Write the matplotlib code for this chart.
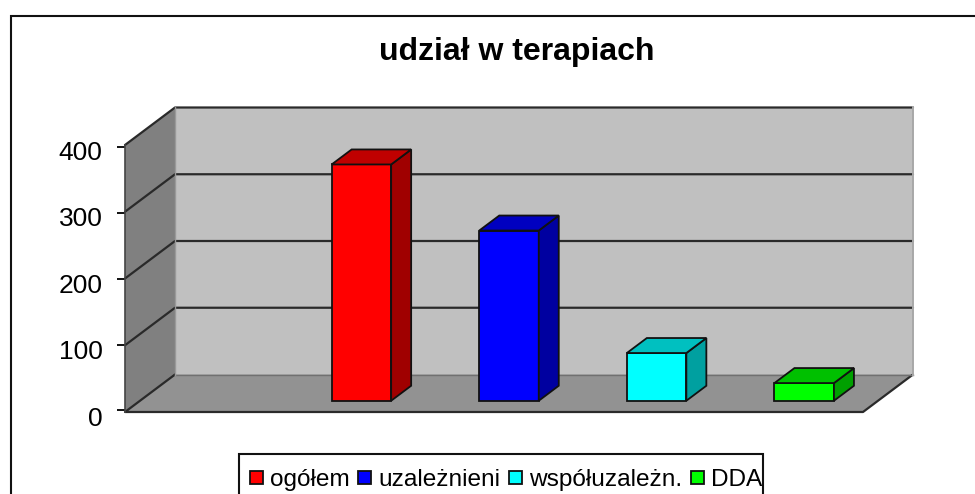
import matplotlib
matplotlib.use("Agg")
import matplotlib.pyplot as plt
from matplotlib.patches import Polygon, Patch, Rectangle
from matplotlib.transforms import ScaledTranslation

plt.rcParams['font.family'] = ['Liberation Sans', 'DejaVu Sans']

# ---- data
title = "udział w terapiach"
series_names = ["ogółem", "uzależnieni", "współuzależn.", "DDA"]
series_values = [354, 255, 71.5, 26.5]
value_ticks = [0, 100, 200, 300, 400]

# ---- style
front_colors = ["#FF0000", "#0000FF", "#00FFFF", "#00FF00"]
side_colors = ["#A00000", "#0000A0", "#00A0A0", "#00A000"]
top_colors = ["#C00000", "#0000C0", "#00C0C0", "#00C000"]
W, H = 975, 494
SLOT_PX = 147.6
UNIT_PX = 267 / 400
DX = 50 / SLOT_PX        # x-units of full chart depth
DY = 37.5 / UNIT_PX      # value-units of full chart depth
BAR_W = 59.5 / SLOT_PX
D0, D1 = 0.30, 0.70      # bar depth range
XMIN, XMAX = -1.5, 3.5
YMIN, YMAX = 0, 400
EDGE = "#111111"


def proj(x, v, d=0.0):
    return (x + d * DX, v + d * DY)


fig = plt.figure(figsize=(W / 100, H / 100), dpi=100, facecolor="white")
ax = fig.add_axes([125 / W, (H - 412) / H, 738 / W, 267 / H])
ax.set_xlim(XMIN, XMAX)
ax.set_ylim(YMIN, YMAX)
ax.patch.set_visible(False)
for s in ax.spines.values():
    s.set_visible(False)


def face(points, color, z, lw=1.3, ec=EDGE):
    ax.add_patch(Polygon(points, closed=True, facecolor=color, edgecolor=ec,
                         linewidth=lw, clip_on=False, zorder=z, joinstyle="miter"))


# back wall, side wall, floor
face([proj(XMIN, YMIN, 1), proj(XMAX, YMIN, 1), proj(XMAX, YMAX, 1), proj(XMIN, YMAX, 1)],
     "#C0C0C0", 1, lw=0)
face([proj(XMIN, YMIN, 0), proj(XMIN, YMIN, 1), proj(XMIN, YMAX, 1), proj(XMIN, YMAX, 0)],
     "#808080", 1, lw=0)
face([proj(XMIN, YMIN, 0), proj(XMAX, YMIN, 0), proj(XMAX, YMIN, 1), proj(XMIN, YMIN, 1)],
     "#929292", 1, lw=0)

# wall outlines and gridlines
line_kw = dict(color="#2A2A2A", lw=1.6, clip_on=False, zorder=2, solid_capstyle="round")
for v in value_ticks[1:]:
    pts = [proj(XMIN, v, 0), proj(XMIN, v, 1), proj(XMAX, v, 1)]
    ax.plot(*zip(*pts), **line_kw)
floor_pts = [proj(XMIN, YMIN, 1), proj(XMIN, YMIN, 0), proj(XMAX, YMIN, 0), proj(XMAX, YMIN, 1)]
ax.plot(*zip(*floor_pts), **line_kw)
ax.plot(*zip(proj(XMIN, YMIN, 0), proj(XMIN, YMAX, 0)), color="#444444", lw=1.2, clip_on=False, zorder=2)
ax.plot(*zip(proj(XMIN, YMIN, 1), proj(XMAX, YMIN, 1)), color="#707070", lw=1.0, clip_on=False, zorder=2)
ax.plot(*zip(proj(XMIN, YMIN, 1), proj(XMIN, YMAX, 1)), color="#999999", lw=1.0, clip_on=False, zorder=2)
ax.plot(*zip(proj(XMAX, YMIN, 1), proj(XMAX, YMAX, 1)), color="#A8A8A8", lw=1.4, clip_on=False, zorder=2)

# bars
for i, val in enumerate(series_values):
    x0, x1 = i - BAR_W / 2, i + BAR_W / 2
    z = 5 + i
    face([proj(x0, 0, D0), proj(x1, 0, D0), proj(x1, val, D0), proj(x0, val, D0)], front_colors[i], z)
    face([proj(x1, 0, D0), proj(x1, 0, D1), proj(x1, val, D1), proj(x1, val, D0)], side_colors[i], z)
    face([proj(x0, val, D0), proj(x1, val, D0), proj(x1, val, D1), proj(x0, val, D1)], top_colors[i], z)

# value axis
ax.set_xticks([])
ax.set_yticks(value_ticks)
ax.set_yticklabels([str(v) for v in value_ticks], fontsize=19, color="black")
ax.tick_params(axis="y", length=5.8, width=1.4, color="#111111", pad=10.3)
for v, tick in zip(value_ticks, ax.yaxis.get_major_ticks()):
    t = v / YMAX
    tick_px = 1.7 - 4.0 * t
    label_px = -4.0 - 1.5 * t
    tick.tick1line.set_transform(tick.tick1line.get_transform()
                                 + ScaledTranslation(0, tick_px / 100, fig.dpi_scale_trans))
    tick.label1.set_transform(tick.label1.get_transform()
                              + ScaledTranslation(0, label_px / 100, fig.dpi_scale_trans))

# title
fig.text(517 / W, 1 - 60 / H, title, ha="center", va="baseline",
         fontsize=23, fontweight="bold", color="black")

# outer chart frame (runs off the right and bottom edges)
fig.add_artist(Rectangle((11 / W, -0.1), 1.1, 1 - 16 / H + 0.1, transform=fig.transFigure,
                         fill=False, edgecolor="#111111", linewidth=1.5))
# legend box (runs off the bottom edge)
fig.add_artist(Rectangle((238.5 / W, -0.1), (762.5 - 238.5) / W, 1 - 454 / H + 0.1,
                         transform=fig.transFigure, fill=False,
                         edgecolor="#111111", linewidth=1.5, zorder=3))

handles = [Patch(facecolor=c, edgecolor="#111111", linewidth=1.3, label=n)
           for c, n in zip(front_colors, series_names)]
leg = fig.legend(handles=handles, loc="center left", bbox_to_anchor=(250 / W, 1 - 480 / H),
                 ncol=4, frameon=False, fontsize=17.6, borderpad=0, borderaxespad=0,
                 handlelength=0.53, handleheight=0.45, handletextpad=0.3, columnspacing=0.34)

fig.savefig("out.png", dpi=100, facecolor="white")
